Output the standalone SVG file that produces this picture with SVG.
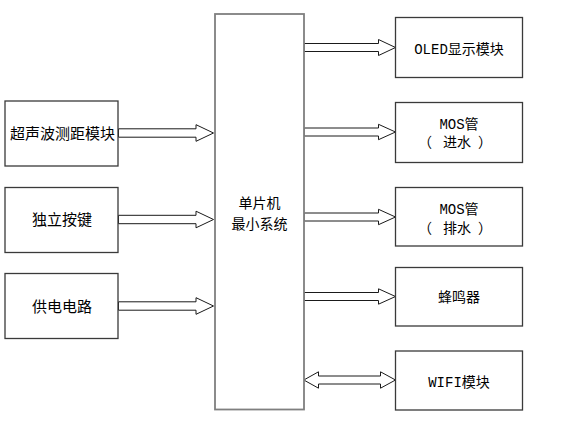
<svg xmlns="http://www.w3.org/2000/svg" width="561" height="423" viewBox="0 0 561 423">
<style>
.box{fill:#fff;stroke:#3a3a3a;stroke-width:1.3}
.mcu{fill:#fff;stroke:#7f7f7f;stroke-width:1.8}
.arr{fill:#fff;stroke:#1a1a1a;stroke-width:1}
text{font-family:"Liberation Mono","Noto Sans CJK SC",monospace;font-size:14px;fill:#000;text-anchor:middle}
.l{font-size:15px}
.cjk{font-family:"Noto Sans CJK SC",sans-serif;text-anchor:start}
</style>
<rect width="561" height="423" fill="#fff"/>
<g id="connectors">
<polygon class="arr" points="118.5,128.8 196,128.8 196,124.7 213.5,133 196,141.3 196,137.2 118.5,137.2"/>
<polygon class="arr" points="118.5,215.3 196,215.3 196,211.2 213.5,219.5 196,227.8 196,223.7 118.5,223.7"/>
<polygon class="arr" points="118.5,301.8 196,301.8 196,297.7 213.5,306 196,314.3 196,310.2 118.5,310.2"/>
<polygon class="arr" points="304,43.5 378.5,43.5 378.5,39.5 395.5,47.5 378.5,55.5 378.5,51.5 304,51.5"/>
<polygon class="arr" points="304,128 378.5,128 378.5,124.3 395.5,132 378.5,139.7 378.5,136 304,136"/>
<polygon class="arr" points="304,213 378.5,213 378.5,209.3 395.5,217 378.5,224.7 378.5,221 304,221"/>
<polygon class="arr" points="304,292.5 378.5,292.5 378.5,288.8 395.5,296.5 378.5,304.2 378.5,300.5 304,300.5"/>
<polygon class="arr" points="303.8,380 318.5,371.8 318.5,376 380.5,376 380.5,371.8 395.5,380 380.5,388.2 380.5,384 318.5,384 318.5,388.2"/>
</g>
<g id="mcu">
<rect class="mcu" x="215" y="14" width="89" height="395.5"/>
<text x="259.5" y="208">单片机</text>
<text x="259.5" y="229">最小系统</text>
</g>
<g id="ultrasonic">
<rect class="box" x="5" y="101" width="113" height="65"/>
<text class="l" x="62.5" y="139">超声波测距模块</text>
</g>
<g id="keys">
<rect class="box" x="5" y="187.5" width="113" height="65"/>
<text class="l" x="62" y="225">独立按键</text>
</g>
<g id="power">
<rect class="box" x="5" y="273.5" width="113" height="65"/>
<text class="l" x="62" y="311.5">供电电路</text>
</g>
<g id="oled">
<rect class="box" x="395.5" y="17.5" width="127" height="60"/>
<text x="459" y="53.5">OLED显示模块</text>
</g>
<g id="mos-in">
<rect class="box" x="395.5" y="102.5" width="127" height="60"/>
<text x="459" y="128.5">MOS管</text>
<text class="cjk" y="147"><tspan x="418">（</tspan><tspan x="443">进水</tspan><tspan x="478">）</tspan></text>
</g>
<g id="mos-out">
<rect class="box" x="395.5" y="187.5" width="127" height="58.5"/>
<text x="459" y="213.5">MOS管</text>
<text class="cjk" y="232.5"><tspan x="418">（</tspan><tspan x="443">排水</tspan><tspan x="478">）</tspan></text>
</g>
<g id="buzzer">
<rect class="box" x="395.5" y="267.5" width="127" height="58.5"/>
<text x="459" y="302">蜂鸣器</text>
</g>
<g id="wifi">
<rect class="box" x="395.5" y="351" width="127" height="59"/>
<text x="459" y="387">WIFI模块</text>
</g>
</svg>
